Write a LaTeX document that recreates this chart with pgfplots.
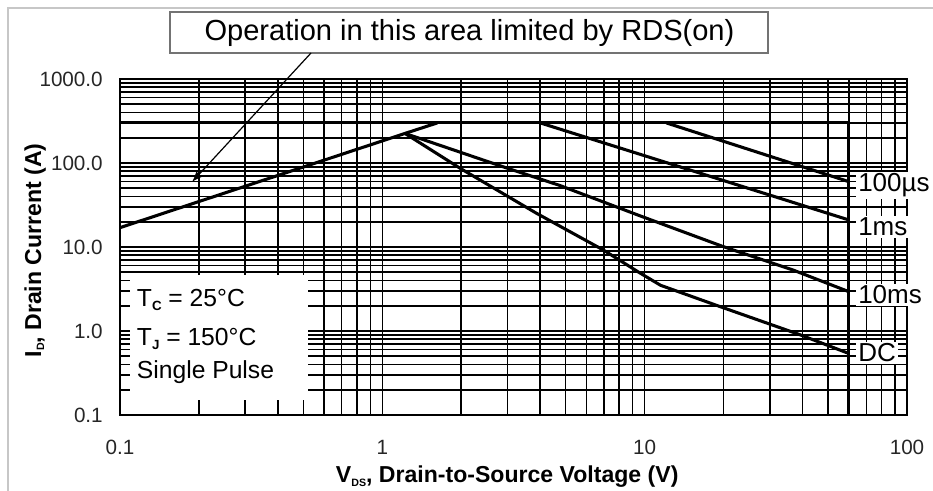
\documentclass[border=0pt]{standalone}
\usepackage{fontspec}
\setmainfont{Liberation Sans}
\usepackage{pgfplots}
\pgfplotsset{compat=1.18}
\usetikzlibrary{arrows.meta}
\begin{document}
\begin{tikzpicture}
\useasboundingbox (0pt,0pt) rectangle (699.75pt,368.25pt);
\begin{axis}[
  at={(90pt,57pt)}, anchor=south west,
  scale only axis, width=590.25pt, height=252pt,
  xmode=log, ymode=log,
  xmin=0.1, xmax=100, ymin=0.1, ymax=1000,
  xtick={0.1,1,10,100}, xticklabels={0.1,1,10,100},
  ytick={0.1,1,10,100,1000}, yticklabels={0.1,1.0,10.0,100.0,1000.0},
  minor xtick={0.2,0.3,0.4,0.5,0.6,0.7,0.8,0.9,2,3,4,5,6,7,8,9,20,30,40,50,60,70,80,90},
  minor ytick={0.2,0.3,0.4,0.5,0.6,0.7,0.8,0.9,2,3,4,5,6,7,8,9,20,30,40,50,60,70,80,90,200,300,400,500,600,700,800,900},
  grid=both,
  grid style={black, line width=1.2pt},
  major grid style={black, line width=1.2pt},
  minor grid style={black, line width=1.2pt},
  major tick length=0pt, minor tick length=0pt,
  axis line style={black, line width=1.2pt},
  tick label style={font=\fontsize{15.5}{18}\selectfont, text=black!85},
  /pgf/number format/assume math mode=true,
  yticklabel style={inner sep=0pt, xshift=-12.75pt},
  xticklabel style={inner sep=0pt, yshift=-18.75pt},
  extra y ticks={10}, extra y tick labels={},
  extra y tick style={grid=major, major grid style={black, line width=2.2pt}},
  xlabel={V\raisebox{-0.25ex}{\fontsize{8}{8}\selectfont DS}, Drain-to-Source Voltage (V)},
  ylabel={I\raisebox{-0.25ex}{\fontsize{8}{8}\selectfont D}, Drain Current (A)},
  xlabel style={font=\fontsize{17.3}{20}\selectfont\bfseries, at={(axis description cs:0.492,-0.1518)}, anchor=north, inner sep=0pt},
  ylabel style={font=\fontsize{17.3}{20}\selectfont\bfseries, at={(axis description cs:-0.0937,0.49)}, anchor=south, inner sep=0pt},
]
% RDS(on) limit
\addplot[black, line width=2.3pt] coordinates {(0.1,17) (1.22,225) (1.62,300)};
% current limit
\addplot[black, line width=2.3pt] coordinates {(0.1,300) (60,300)};
% voltage limit
\addplot[black, line width=2.3pt] coordinates {(60,300) (60,0.1)};
% 100 us
\addplot[black, line width=2.3pt] coordinates {(12.1,300) (60,60)};
% 1 ms
\addplot[black, line width=2.3pt] coordinates {(4.0,300) (60,21)};
% 10 ms
\addplot[black, line width=2.3pt] coordinates {(1.22,225) (2.89,90) (4.75,54) (9.6,23.5) (19.95,10.1) (36.9,5.3) (60,2.94)};
% DC
\addplot[black, line width=2.3pt] coordinates {(1.22,225) (1.98,86.5) (3.87,25.2) (6.96,9.2) (9.6,4.9) (11.5,3.5) (19.4,1.95) (39.2,0.9) (60,0.54)};
\end{axis}
% outer frame
\draw[black!22, line width=1.5pt] (5.9pt,0pt) -- (5.9pt,362.4pt) -- (699.75pt,362.4pt);
% conditions box
\fill[white] (97.5pt,68.25pt) rectangle (231pt,162pt);
\begin{scope}[every node/.style={anchor=base west, inner sep=0pt, font=\fontsize{18.5}{20}\selectfont}]
\node at (102.5pt,138.2pt) {T\raisebox{-0.3ex}{\fontsize{10}{10}\selectfont\bfseries C} = 25°C};
\node at (102.5pt,108.75pt) {T\raisebox{-0.3ex}{\fontsize{10}{10}\selectfont\bfseries J} = 150°C};
\node at (102.5pt,84pt) {Single Pulse};
\end{scope}
% curve labels
\begin{scope}[every node/.style={anchor=base west, inner sep=1.5pt, fill=white, font=\fontsize{19.5}{22}\selectfont}]
\node at (642pt,224.25pt) {100µs};
\node at (642pt,191.25pt) {1ms};
\node at (642pt,140.25pt) {10ms};
\node at (642pt,96.75pt) {DC};
\end{scope}
% annotation
\node[draw=black!55, line width=1.5pt, fill=white, minimum width=448.5pt, minimum height=30.75pt, inner sep=0pt, font=\fontsize{21.8}{24}\selectfont] at (352.1pt,343.5pt) {Operation in this area limited by RDS(on)};
\draw[-{Latex[length=8pt,width=6pt]}, line width=0.9pt] (233.25pt,328.5pt) -- (144pt,231.75pt);
\end{tikzpicture}
\end{document}
